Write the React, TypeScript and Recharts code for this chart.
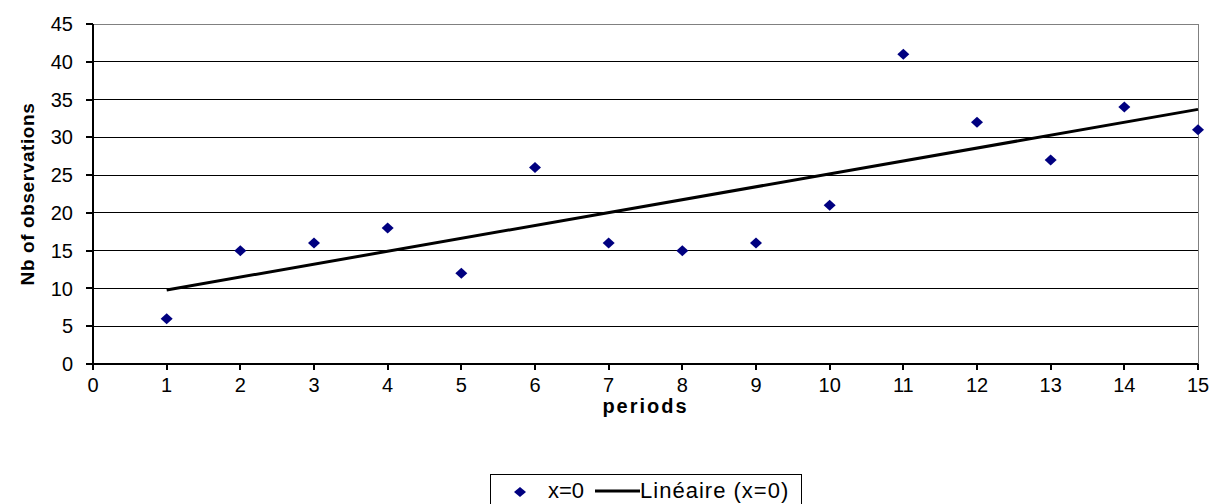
import React from "react";
import {
  ComposedChart,
  Scatter,
  Line,
  XAxis,
  YAxis,
  CartesianGrid,
  ReferenceLine,
  Legend,
} from "recharts";

// observations per period
const periods = [1, 2, 3, 4, 5, 6, 7, 8, 9, 10, 11, 12, 13, 14, 15];
const observations = [6, 15, 16, 18, 12, 26, 16, 15, 16, 21, 41, 32, 27, 34, 31];

// linear trend end points
const trendPeriods = [1, 15];
const trendValues = [9.8, 33.7];

const xTicks = [0, 1, 2, 3, 4, 5, 6, 7, 8, 9, 10, 11, 12, 13, 14, 15];
const yTicks = [0, 5, 10, 15, 20, 25, 30, 35, 40, 45];

const points = periods.map((x, i) => ({ x, y: observations[i] }));
const trend = trendPeriods.map((x, i) => ({ x, y: trendValues[i] }));

const NAVY = "#000080";
const FONT = "'Liberation Sans', Arial, sans-serif";

// keep the grid and axis lines sharp, one pixel wide
const crisp = `
.recharts-cartesian-grid line,
.recharts-cartesian-axis-line,
.recharts-cartesian-axis-tick-line,
.recharts-reference-line line { shape-rendering: crispEdges; }
`;

const Diamond = (props: any) => {
  const { cx, cy } = props;
  if (cx == null || cy == null) return null;
  return (
    <polygon
      points={`${cx - 6},${cy} ${cx},${cy - 5.5} ${cx + 6},${cy} ${cx},${cy + 5.5}`}
      fill={NAVY}
    />
  );
};

const LegendBox = () => (
  <div
    style={{
      border: "1px solid #000",
      height: 34,
      boxSizing: "border-box",
      display: "flex",
      alignItems: "flex-start",
      paddingTop: 3,
      fontFamily: FONT,
      fontSize: 22,
      color: "#000",
      background: "#fff",
      whiteSpace: "nowrap",
    }}
  >
    <svg width={14} height={12} style={{ marginLeft: 22, marginTop: 8 }}>
      <polygon points="1,6 7,1 13,6 7,11" fill={NAVY} />
    </svg>
    <span style={{ marginLeft: 21 }}>x=0</span>
    <svg width={45} height={20} style={{ marginLeft: 11 }}>
      <line x1={0} y1={13} x2={45} y2={13} stroke="#000" strokeWidth={3} />
    </svg>
    <span style={{ letterSpacing: 1 }}>Linéaire (x=0)</span>
  </div>
);

export default function App() {
  return (
    <div style={{ position: "absolute", left: 0, top: 0, background: "#fff" }}>
      <style>{crisp}</style>
      <ComposedChart
        width={1210}
        height={504}
        margin={{ top: 24, right: 12, left: 10, bottom: 80 }}
        style={{ fontFamily: FONT }}
      >
        <CartesianGrid vertical={false} stroke="#000" strokeOpacity={1} />
        <ReferenceLine y={45} stroke="#808080" />
        <ReferenceLine x={15} stroke="#808080" />
        <XAxis
          type="number"
          dataKey="x"
          domain={[0, 15]}
          ticks={xTicks}
          interval={0}
          height={60}
          tickSize={6}
          tickMargin={8}
          stroke="#000"
          strokeWidth={2}
          tick={{ fill: "#000", fontSize: 20, fontFamily: FONT }}
          allowDecimals={false}
          label={{
            value: "periods",
            position: "insideBottom",
            offset: 11,
            fill: "#000",
            fontSize: 20,
            fontWeight: "bold",
            letterSpacing: 2,
          }}
        />
        <YAxis
          type="number"
          dataKey="y"
          domain={[0, 45]}
          ticks={yTicks}
          interval={0}
          width={83}
          tickSize={7}
          tickMargin={13}
          stroke="#000"
          strokeWidth={2}
          tick={{ fill: "#000", fontSize: 20, fontFamily: FONT }}
          label={{
            value: "Nb of observations",
            angle: -90,
            position: "insideLeft",
            offset: 17,
            fill: "#000",
            fontSize: 19,
            fontWeight: "bold",
            letterSpacing: 0.6,
            style: { textAnchor: "middle" },
          }}
        />
        <Line
          data={trend}
          dataKey="y"
          type="linear"
          stroke="#000"
          strokeWidth={3}
          dot={false}
          activeDot={false}
          isAnimationActive={false}
          name="Linéaire (x=0)"
        />
        <Scatter
          data={points}
          dataKey="y"
          shape={<Diamond />}
          fill={NAVY}
          isAnimationActive={false}
          name="x=0"
        />
        <Legend
          layout="vertical"
          align="center"
          verticalAlign="middle"
          content={<LegendBox />}
          wrapperStyle={{ left: 490, top: 474, width: 312 }}
        />
      </ComposedChart>
    </div>
  );
}
